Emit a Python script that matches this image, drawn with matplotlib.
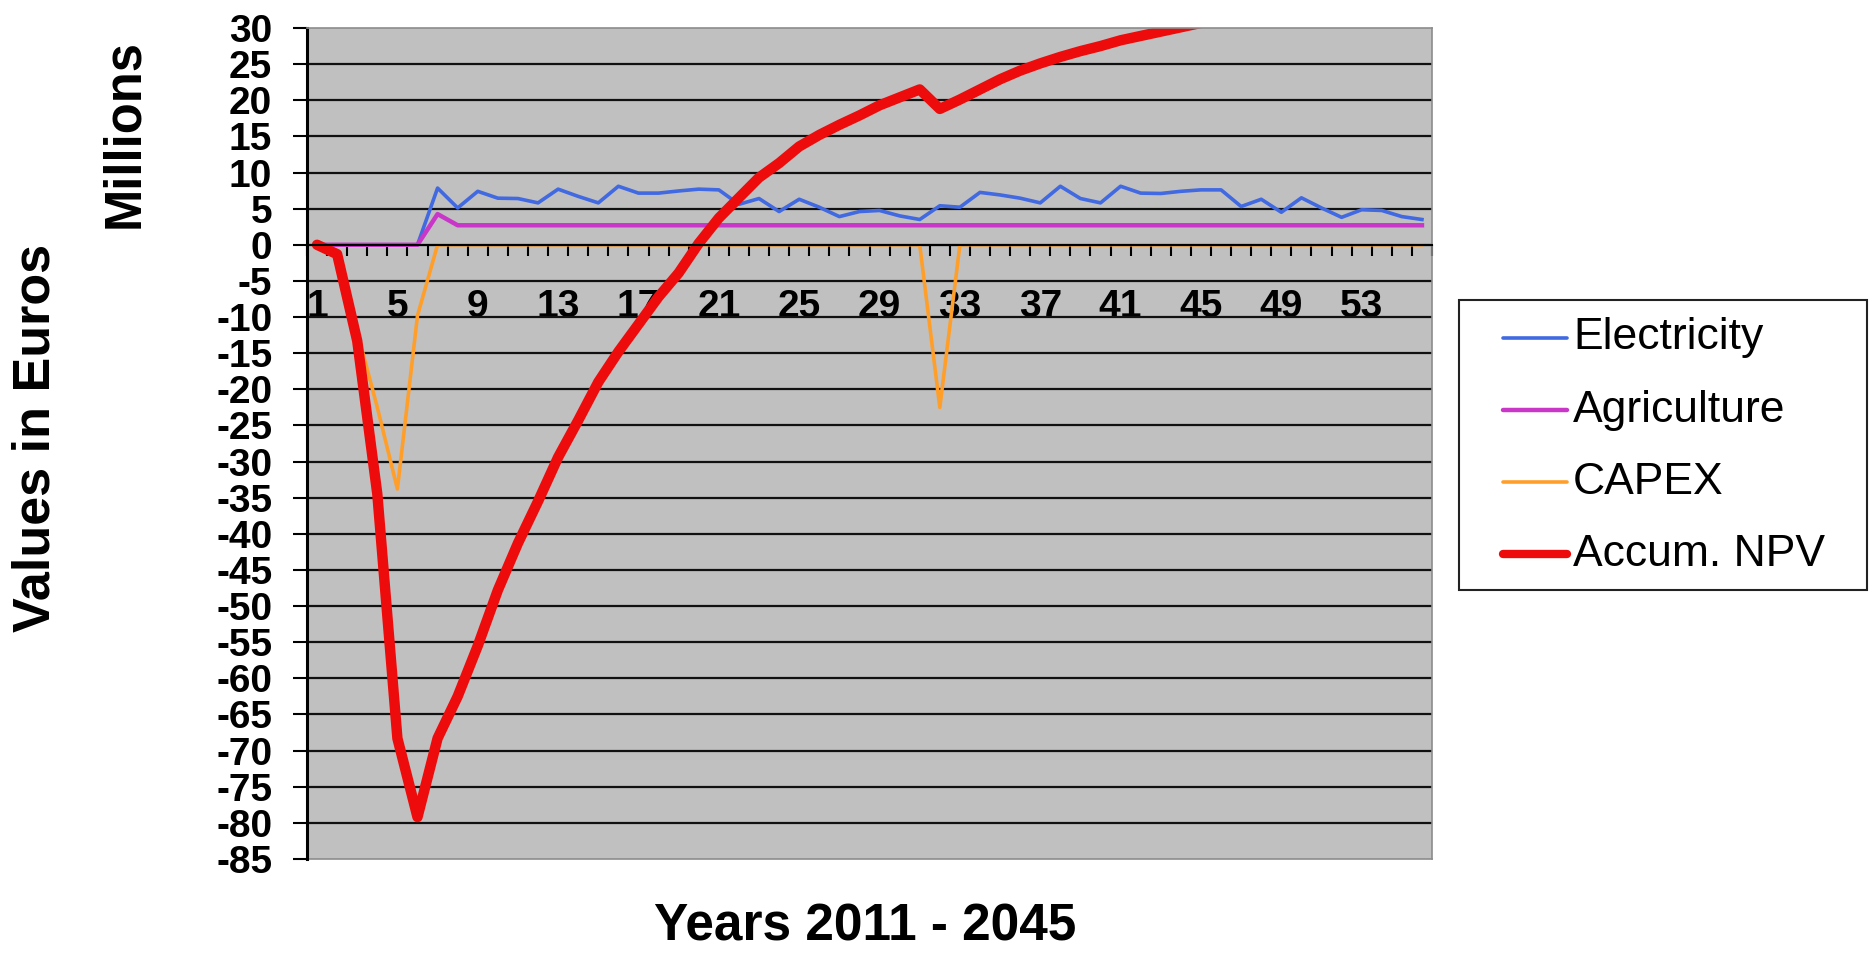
import matplotlib
matplotlib.use('Agg')
import matplotlib.pyplot as plt
from matplotlib import font_manager as fm
from matplotlib.lines import Line2D
from matplotlib.patches import Rectangle
import numpy as np

# yearly cash flows, millions of euros
years = np.arange(1, 57)
electricity = [0, 0, 0, 0, 0, 0, 7.85, 5.1, 7.4, 6.45,
               6.4, 5.8, 7.7, 6.7, 5.8, 8.1, 7.15, 7.15, 7.45, 7.7,
               7.6, 5.6, 6.4, 4.6, 6.3, 5.2, 3.9, 4.6, 4.75, 4.0,
               3.5, 5.4, 5.2, 7.25, 6.9, 6.45, 5.8, 8.1, 6.4, 5.8,
               8.1, 7.15, 7.1, 7.4, 7.6, 7.6, 5.3, 6.3, 4.5, 6.5,
               5.1, 3.8, 4.85, 4.75, 3.9, 3.5]
agriculture = [0, 0, 0, 0, 0, 0, 4.25] + [2.7] * 49
capex = [0, -1.3, -12.0, -22.5, -33.8, -9.8] + [0] * 25 + [-22.5] + [0] * 24
# accumulated NPV, runs off the top of the scale after year 44
npv = [0, -1.3, -13.3, -34.5, -68.3, -79.2, -68.3, -62.5, -55.5, -47.8,
       -41.3, -35.5, -29.4, -24.3, -19.0, -14.8, -11.0, -7.2, -3.9, 0.2,
       3.7, 6.5, 9.3, 11.3, 13.6, 15.2, 16.6, 17.9, 19.3, 20.4,
       21.5, 18.8, 20.1, 21.5, 22.9, 24.1, 25.1, 26.0, 26.8, 27.5,
       28.3, 28.9, 29.5, 30.1, 30.7]
series_names = ['Electricity', 'Agriculture', 'CAPEX', 'Accum. NPV']

names = {f.name for f in fm.fontManager.ttflist}
NARROW = 'Liberation Sans Narrow' if 'Liberation Sans Narrow' in names else 'Liberation Sans'
plt.rcParams['font.family'] = ['Liberation Sans', 'DejaVu Sans']
plt.rcParams['axes.unicode_minus'] = False

W, H = 1869, 955
fig = plt.figure(figsize=(W / 100, H / 100), dpi=100)
ax = fig.add_axes([307 / W, 1 - 859 / H, (1432 - 307) / W, (859 - 28) / H])
ax.set_facecolor('#C0C0C0')
ax.set_xlim(0.5, 56.5)
ax.set_ylim(-85, 30)

# horizontal grid, but not on the frame edges
ax.set_yticks(np.arange(-85, 31, 5))
ax.yaxis.grid(True, color='#111111', lw=1.6)
ax.set_axisbelow(True)
glines = ax.yaxis.get_gridlines()
glines[0].set_visible(False)
glines[-1].set_visible(False)

# category axis sits on zero
ax.spines['bottom'].set_position(('data', 0))
ax.spines['bottom'].set_color('black')
ax.spines['bottom'].set_linewidth(1.5)
ax.spines['left'].set_linewidth(2.2)
for s in ['top', 'right']:
    ax.spines[s].set_color('#8c8c8c')
    ax.spines[s].set_linewidth(1.2)
ax.plot([0, 1], [0, 0], transform=ax.transAxes, color='#8c8c8c', lw=1.2, clip_on=False)

ax.set_xticks(years[::4])
ax.set_xticklabels([str(y) for y in years[::4]])
ax.set_xticks(np.arange(0.5, 57, 1), minor=True)
ax.tick_params(axis='x', which='major', length=0, pad=32)
ax.tick_params(axis='x', which='minor', length=8, width=1.5, direction='out', color='black')
ax.tick_params(axis='y', length=10, width=1.5, direction='out', pad=15)
for lab in ax.get_xticklabels() + ax.get_yticklabels():
    lab.set_fontfamily(NARROW)
    lab.set_fontweight('bold')
    lab.set_fontsize(28)

colors = ['#4169E1', '#C837C8', '#FF9F2A', '#EE0B0B']
widths = [2.6, 3.2, 2.6, 7.5]
ax.plot(years, electricity, color=colors[0], lw=widths[0])
ax.plot(years, agriculture, color=colors[1], lw=widths[1])
ax.plot(years, capex, color=colors[2], lw=widths[2])
ax.plot(years[:len(npv)], npv, color=colors[3], lw=widths[3],
        solid_joinstyle='round', solid_capstyle='round')

# axis titles
tfont = dict(family=NARROW, weight='bold')
fig.text(36 / W, 1 - 438 / H, 'Values in Euros', rotation=90, ha='center', va='center',
         fontsize=37.5, **tfont)
fig.text(125 / W, 1 - 134 / H, 'Millions', rotation=90, ha='center', va='center',
         fontsize=36.5, **tfont)
fig.text(865 / W, 1 - 927 / H, 'Years 2011 - 2045', ha='center', va='center',
         fontsize=37, **tfont)

# legend box
fig.patches.append(Rectangle((1459 / W, 1 - 590 / H), (1867 - 1459) / W, (590 - 300) / H,
                             transform=fig.transFigure, facecolor='white', edgecolor='#222222', lw=1.5))
for k, name in enumerate(series_names):
    yk = 1 - (338 + 72 * k) / H
    fig.lines.append(Line2D([1503 / W, 1567 / W], [yk, yk], transform=fig.transFigure,
                            color=colors[k], lw=min(widths[k], 6), solid_capstyle='round'))
    fig.text(1573 / W, yk, name, fontsize=32, va='center', ha='left')

fig.savefig('out.png', dpi=100, facecolor='white')
